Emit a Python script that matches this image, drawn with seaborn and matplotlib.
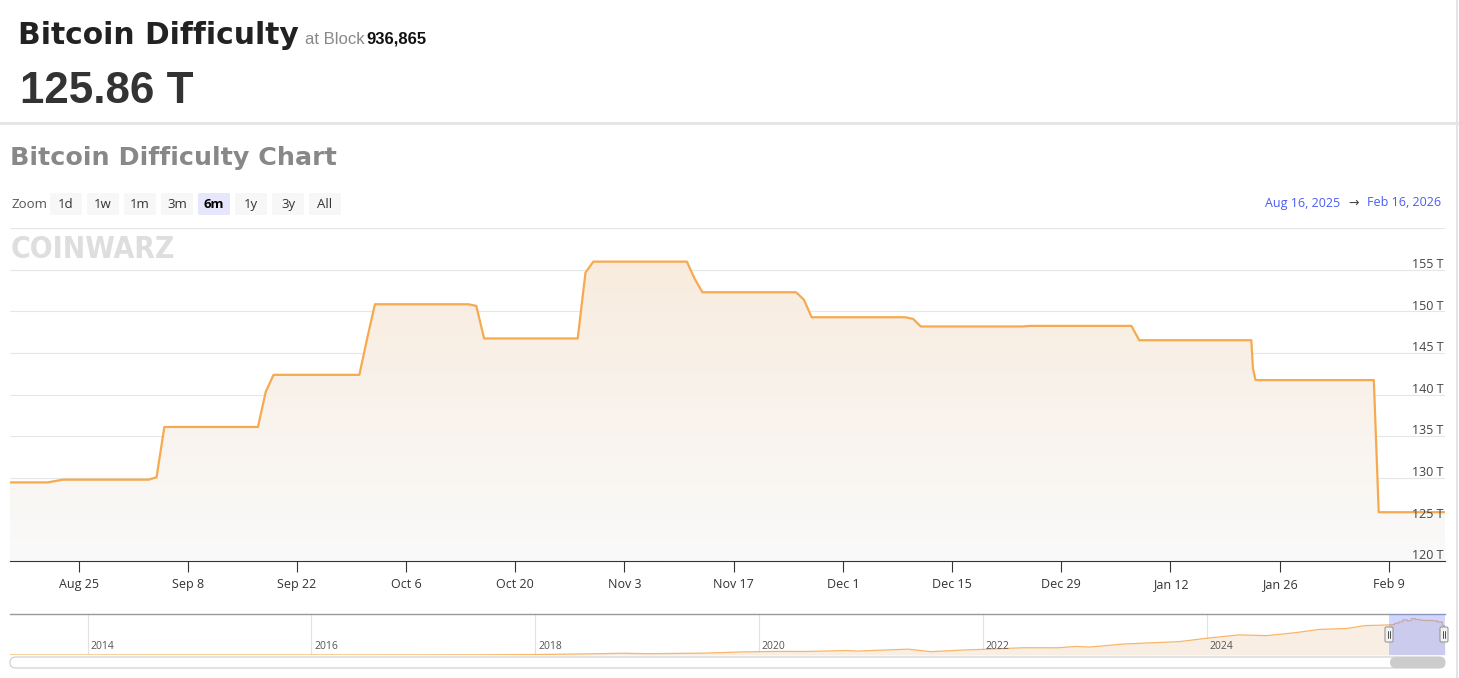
import numpy as np
import pandas as pd
import matplotlib
matplotlib.use("Agg")
import matplotlib.pyplot as plt
import matplotlib.dates as mdates
import seaborn as sns
from matplotlib.patches import FancyBboxPatch, Rectangle, PathPatch
from matplotlib.lines import Line2D
from matplotlib.transforms import Affine2D

# ---------------- data ----------------
dates = [
    "2025-08-16 00:00", "2025-08-21 00:00", "2025-08-23 00:00", "2025-09-03 00:00",
    "2025-09-04 00:00", "2025-09-05 00:00", "2025-09-17 00:00", "2025-09-18 00:00",
    "2025-09-19 00:00", "2025-09-30 00:00", "2025-10-01 00:00", "2025-10-02 00:00",
    "2025-10-14 00:00", "2025-10-15 00:00", "2025-10-16 00:00", "2025-10-28 00:00",
    "2025-10-29 00:00", "2025-10-30 00:00", "2025-11-11 00:00", "2025-11-12 00:00",
    "2025-11-13 00:00", "2025-11-25 00:00", "2025-11-26 00:00", "2025-11-27 00:00",
    "2025-12-09 00:00", "2025-12-10 00:00", "2025-12-11 00:00", "2025-12-24 00:00",
    "2025-12-25 00:00", "2026-01-07 00:00", "2026-01-08 00:00", "2026-01-22 09:00",
    "2026-01-22 14:00", "2026-01-22 22:00", "2026-02-07 02:00", "2026-02-07 17:00",
    "2026-02-16 06:00",
]
difficulty = [
    129.44, 129.44, 129.77, 129.77,
    130.06, 136.10, 136.10, 140.32,
    142.36, 142.36, 146.70, 150.84,
    150.84, 150.64, 146.73, 146.73,
    154.64, 155.96, 155.96, 153.90,
    152.28, 152.28, 151.40, 149.28,
    149.28, 149.08, 148.17, 148.17,
    148.24, 148.24, 146.52, 146.52,
    143.13, 141.73, 141.73, 125.86,
    125.86,
]

history_dates = [
    "2013-04-23 00:00", "2014-01-01 00:00", "2015-01-01 00:00", "2016-01-01 00:00",
    "2017-01-01 00:00", "2017-07-01 00:00", "2018-01-01 00:00", "2018-07-01 00:00",
    "2018-10-15 00:00", "2019-01-01 00:00", "2019-07-01 00:00", "2019-11-01 00:00",
    "2020-03-01 00:00", "2020-06-01 00:00", "2020-10-15 00:00", "2020-11-15 00:00",
    "2021-05-01 00:00", "2021-07-15 00:00", "2021-11-01 00:00", "2022-01-01 00:00",
    "2022-05-15 00:00", "2022-09-01 00:00", "2022-11-01 00:00", "2022-12-15 00:00",
    "2023-04-01 00:00", "2023-07-01 00:00", "2023-10-01 00:00", "2024-01-01 00:00",
    "2024-04-15 00:00", "2024-07-15 00:00", "2024-10-15 00:00", "2025-01-01 00:00",
    "2025-04-01 00:00", "2025-06-01 00:00", "2025-07-15 00:00",
]
history_difficulty = [
    0.00001, 0.0015, 0.040, 0.104,
    0.318, 0.711, 1.93, 5.08,
    7.45, 5.62, 7.93, 12.97,
    15.55, 15.14, 19.31, 16.85,
    25.05, 14.36, 21.66, 24.27,
    31.25, 30.98, 36.76, 34.09,
    46.84, 52.35, 57.12, 72.01,
    86.39, 83.15, 95.67, 109.78,
    113.76, 126.41, 127.62,
]

y_ticks = [120, 125, 130, 135, 140, 145, 150, 155, 160]
y_tick_labels = ["120 T", "125 T", "130 T", "135 T", "140 T", "145 T", "150 T", "155 T", ""]
x_tick_dates = ["2025-08-25", "2025-09-08", "2025-09-22", "2025-10-06", "2025-10-20",
                "2025-11-03", "2025-11-17", "2025-12-01", "2025-12-15", "2025-12-29",
                "2026-01-12", "2026-01-26", "2026-02-09"]
x_tick_labels = ["Aug 25", "Sep 8", "Sep 22", "Oct 6", "Oct 20", "Nov 3", "Nov 17",
                 "Dec 1", "Dec 15", "Dec 29", "Jan 12", "Jan 26", "Feb 9"]
zoom_buttons = ["1d", "1w", "1m", "3m", "6m", "1y", "3y", "All"]
selected_button = "6m"
nav_years = [2014, 2016, 2018, 2020, 2022, 2024]

view_start, view_end = "2025-08-16 05:00", "2026-02-16 05:00"
sel_start, sel_end = "2025-08-16 00:00", "2026-02-16 00:00"
nav_start, nav_end = "2013-04-23", "2026-02-16"

# ---------------- style ----------------
W, H = 1459, 678
sns.set_theme(style="white")
plt.rcParams["font.family"] = ["Open Sans", "DejaVu Sans"]

fig = plt.figure(figsize=(W / 100, H / 100), dpi=100)
fig.patch.set_facecolor("white")
px = Affine2D().scale(1 / 100.0) + fig.dpi_scale_trans  # pixel units, origin bottom-left


def P(y):
    return H - y


def fx(x):
    return x / W


def fy(y):
    return 1 - y / H


LINE = "#f7a94f"

# ---------------- header ----------------
fig.text(18, P(44), "Bitcoin Difficulty", transform=px, fontsize=21.4, fontweight="bold",
         color="#222222", family=["DejaVu Sans"], va="baseline")
fig.text(305, P(44), "at Block", transform=px, fontsize=12, color="#888888",
         family=["Liberation Sans"], va="baseline")
fig.text(366, P(44), "936,865", transform=px, fontsize=12, fontweight="bold", color="#111111",
         family=["Liberation Sans"], va="baseline")
fig.text(20, P(103), "125.86 T", transform=px, fontsize=31.6, fontweight="bold", color="#333333",
         family=["Liberation Sans"], va="baseline")
fig.add_artist(Rectangle((0, P(125)), W, 3, transform=px, facecolor="#e6e6e6", edgecolor="none"))
fig.add_artist(Rectangle((1455.5, 0), 2, H, transform=px, facecolor="#e4e4e4", edgecolor="none"))

fig.text(10, P(165), "Bitcoin Difficulty Chart", transform=px, fontsize=18.3, fontweight="bold",
         color="#888888", family=["DejaVu Sans"], va="baseline")

# zoom buttons
fig.text(11, P(204.5), "Zoom", transform=px, fontsize=9.5, color="#555555", va="center")
for i, lab in enumerate(zoom_buttons):
    x0 = 50 + 37 * i
    sel = lab == selected_button
    fig.add_artist(FancyBboxPatch((x0, P(215)), 32, 22, transform=px,
                                  boxstyle="round,pad=0,rounding_size=2",
                                  facecolor="#e6e7fb" if sel else "#f7f7f7", edgecolor="none"))
    fig.text(x0 + 16, P(204.5), lab, transform=px, fontsize=9.5, ha="center", va="center",
             color="#000000" if sel else "#333333", fontweight="bold" if sel else "normal")

# date range
fig.text(1340, P(203), "Aug 16, 2025", transform=px, fontsize=9, ha="right", va="center",
         color="#4a5cf2")
fig.text(1354, P(203), "\u2192", transform=px, fontsize=9, ha="center", va="center",
         color="#444444", family=["DejaVu Sans"])
fig.text(1441, P(203), "Feb 16, 2026", transform=px, fontsize=9, ha="right", va="center",
         color="#4a5cf2")

# ---------------- main chart ----------------
ax = fig.add_axes([fx(10), fy(561), fx(1445) - fx(10), fy(228) - fy(561)])
df = pd.DataFrame({"date": pd.to_datetime(dates, format="%Y-%m-%d %H:%M"),
                   "difficulty": difficulty})
x0n = mdates.date2num(pd.Timestamp(view_start))
x1n = mdates.date2num(pd.Timestamp(view_end))

sns.lineplot(data=df, x="date", y="difficulty", ax=ax, color=LINE, linewidth=1.6, zorder=5)

fill = ax.fill_between(df["date"], df["difficulty"], 120, color="none", lw=0)
path = fill.get_paths()[0]
t = np.linspace(0, 1, 256)[:, None]
bottom = np.array([250, 250, 250]) / 255
top = np.array([248, 234, 219]) / 255
img = (bottom + t * (top - bottom))[:, None, :]
im = ax.imshow(img, extent=[x0n - 2, x1n + 2, 120, 160], origin="lower", aspect="auto",
               zorder=2, interpolation="bilinear")
im.set_clip_path(PathPatch(path, transform=ax.transData, facecolor="none"))

ax.set_xlim(x0n, x1n)
ax.set_ylim(120, 160)
ax.set_yticks(y_ticks)
ax.yaxis.grid(True, color="#e6e6e6", linewidth=0.8, zorder=1)
ax.xaxis.grid(False)
ax.set_axisbelow(True)
ax.tick_params(axis="y", length=0, labelleft=False, labelright=False)
for v, lab in zip(y_ticks, y_tick_labels):
    ax.annotate(lab, xy=(1, v), xycoords=ax.get_yaxis_transform(), xytext=(-1, 1.2),
                textcoords="offset points", ha="right", va="baseline", fontsize=9,
                color="#444444", zorder=6)

ax.set_xticks(mdates.date2num(pd.to_datetime(x_tick_dates)))
ax.set_xticklabels(x_tick_labels)
ax.tick_params(axis="x", length=8, width=0.8, color="#333333", labelsize=9,
               labelcolor="#333333", pad=4.5, direction="out", bottom=True)
ax.set_xlabel("")
ax.set_ylabel("")
for s in ["top", "left", "right"]:
    ax.spines[s].set_visible(False)
ax.spines["bottom"].set_color("#333333")
ax.spines["bottom"].set_linewidth(0.8)
ax.set_facecolor("none")

# watermark
fig.text(11, P(258), "COINWARZ", transform=px, fontsize=21.5, fontweight="heavy",
         fontstretch="condensed", color="#dedede", family=["DejaVu Sans"], va="baseline")

# ---------------- navigator ----------------
nav = fig.add_axes([fx(10), fy(655), fx(1445) - fx(10), fy(614) - fy(655)])
nav_df = pd.DataFrame({
    "date": pd.to_datetime(history_dates + dates, format="%Y-%m-%d %H:%M"),
    "difficulty": history_difficulty + difficulty,
})
nav.fill_between(nav_df["date"], nav_df["difficulty"], 0, color="#f8eee4", lw=0, zorder=2)
sns.lineplot(data=nav_df, x="date", y="difficulty", ax=nav, color=LINE, linewidth=0.9,
             alpha=0.85, zorder=3)
nav.set_xlim(mdates.date2num(pd.Timestamp(nav_start)), mdates.date2num(pd.Timestamp(nav_end)))
nav.set_ylim(0, 176)
year_pos = mdates.date2num(pd.to_datetime([f"{y}-01-01" for y in nav_years]))
nav.set_xticks(year_pos)
nav.xaxis.grid(True, color="#e2e2e2", linewidth=0.8, zorder=1)
nav.yaxis.grid(False)
nav.set_yticks([])
nav.tick_params(axis="x", length=0, labelbottom=False)
nav.set_xlabel("")
nav.set_ylabel("")
for yv, xp in zip(nav_years, year_pos):
    nav.annotate(str(yv), xy=(xp, 0.2), xycoords=nav.get_xaxis_transform(), xytext=(2, 0),
                 textcoords="offset points", ha="left", va="center", fontsize=7.5,
                 color="#555555", zorder=4)
for s in ["left", "right", "bottom"]:
    nav.spines[s].set_visible(False)
nav.spines["top"].set_color("#999999")
nav.spines["top"].set_linewidth(1.0)
nav.axvspan(mdates.date2num(pd.Timestamp(sel_start)), mdates.date2num(pd.Timestamp(sel_end)),
            color=(0.48, 0.56, 1.0), alpha=0.36, lw=0, zorder=5)

for hx in (1389, 1444):
    fig.add_artist(FancyBboxPatch((hx - 4, P(642)), 8, 15, transform=px,
                                  boxstyle="round,pad=0,rounding_size=1.5",
                                  facecolor="#f2f2f2", edgecolor="#999999", linewidth=0.8))
    for dx in (-1.2, 1.2):
        fig.add_artist(Line2D([hx + dx, hx + dx], [P(638), P(631)], transform=px,
                              color="#333333", linewidth=0.6))

# scrollbar
fig.add_artist(FancyBboxPatch((10, P(668)), 1435, 11, transform=px,
                              boxstyle="round,pad=0,rounding_size=5.5",
                              facecolor="white", edgecolor="#cccccc", linewidth=0.8))
fig.add_artist(FancyBboxPatch((1390, P(668)), 55, 11, transform=px,
                              boxstyle="round,pad=0,rounding_size=5.5",
                              facecolor="#cccccc", edgecolor="none"))

fig.savefig("out.png", dpi=100, facecolor="white")
